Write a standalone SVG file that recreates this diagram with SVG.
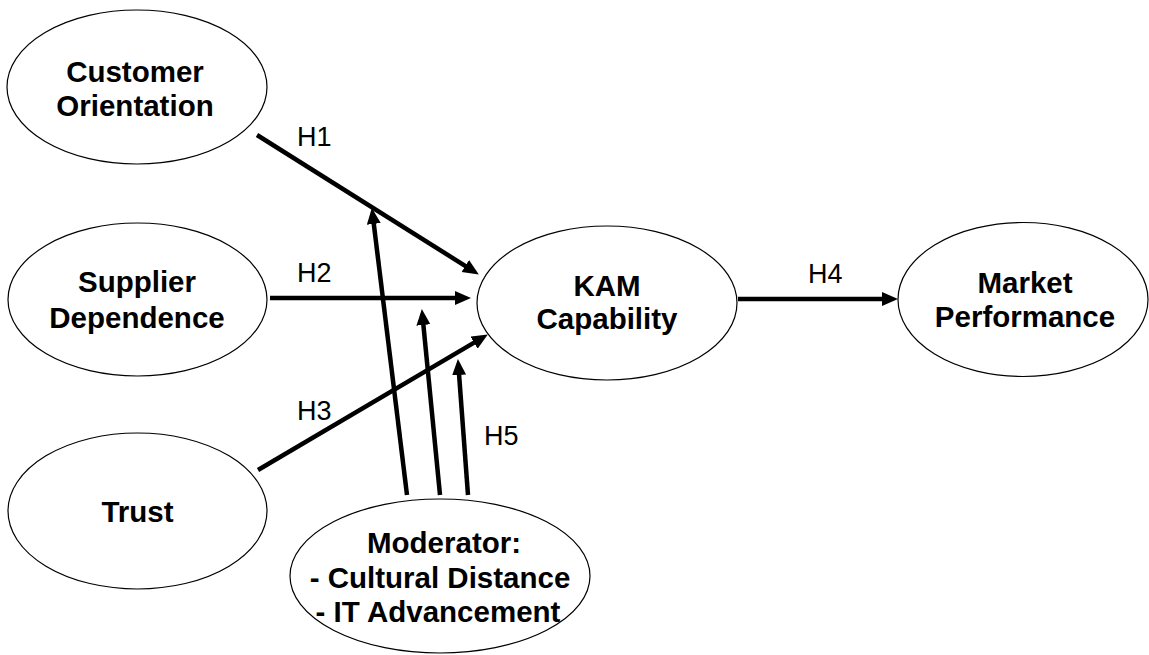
<svg xmlns="http://www.w3.org/2000/svg" width="1149" height="655" viewBox="0 0 1149 655">
<style>
.node ellipse{fill:#fff;stroke:#000;stroke-width:1.2}
.node text{font-family:"Liberation Sans",Arial,sans-serif;font-weight:bold;font-size:29.5px;text-anchor:middle;fill:#000}
.lbl{font-family:"Liberation Sans",Arial,sans-serif;font-size:27px;fill:#000}
.edge{stroke:#000;stroke-width:4.5;fill:none;marker-end:url(#ah)}
</style>
<defs>
<marker id="ah" markerUnits="userSpaceOnUse" markerWidth="17" markerHeight="15" refX="4" refY="7" orient="auto">
<path d="M0,0 L16,7 L0,14 z" fill="#000"/>
</marker>
</defs>
<rect width="1149" height="655" fill="#fff"/>
<g id="n-customer" class="node">
<ellipse cx="137" cy="87" rx="130" ry="77"/>
<text x="135" y="82">Customer</text>
<text x="135" y="116">Orientation</text>
</g>
<g id="n-supplier" class="node">
<ellipse cx="137.5" cy="299.5" rx="129.5" ry="76.5"/>
<text x="137" y="292">Supplier</text>
<text x="137" y="328">Dependence</text>
</g>
<g id="n-trust" class="node">
<ellipse cx="137.5" cy="511" rx="129.5" ry="78"/>
<text x="137.5" y="522">Trust</text>
</g>
<g id="n-kam" class="node">
<ellipse cx="607" cy="303" rx="130" ry="77"/>
<text x="607" y="296">KAM</text>
<text x="607" y="329">Capability</text>
</g>
<g id="n-market" class="node">
<ellipse cx="1023" cy="299.5" rx="125" ry="77"/>
<text x="1025" y="293">Market</text>
<text x="1025" y="327">Performance</text>
</g>
<g id="n-moderator" class="node">
<ellipse cx="440" cy="576" rx="150" ry="77"/>
<text x="444" y="553">Moderator:</text>
<text x="440" y="588">- Cultural Distance</text>
<text x="438" y="622">- IT Advancement</text>
</g>
<g id="connectors">
<line class="edge" x1="257" y1="135" x2="468.7" y2="268.1"/>
<line class="edge" x1="270" y1="298" x2="459" y2="298"/>
<line class="edge" x1="258" y1="470" x2="477.5" y2="340.6"/>
<line class="edge" x1="738" y1="299" x2="886" y2="299"/>
<line class="edge" x1="407" y1="495" x2="373.3" y2="219.9"/>
<line class="edge" x1="440" y1="495" x2="423" y2="321"/>
<line class="edge" x1="468" y1="495" x2="458.8" y2="371"/>
<text class="lbl" x="297" y="146">H1</text>
<text class="lbl" x="297" y="282">H2</text>
<text class="lbl" x="297" y="420">H3</text>
<text class="lbl" x="808" y="283">H4</text>
<text class="lbl" x="484" y="445">H5</text>
</g>
</svg>
